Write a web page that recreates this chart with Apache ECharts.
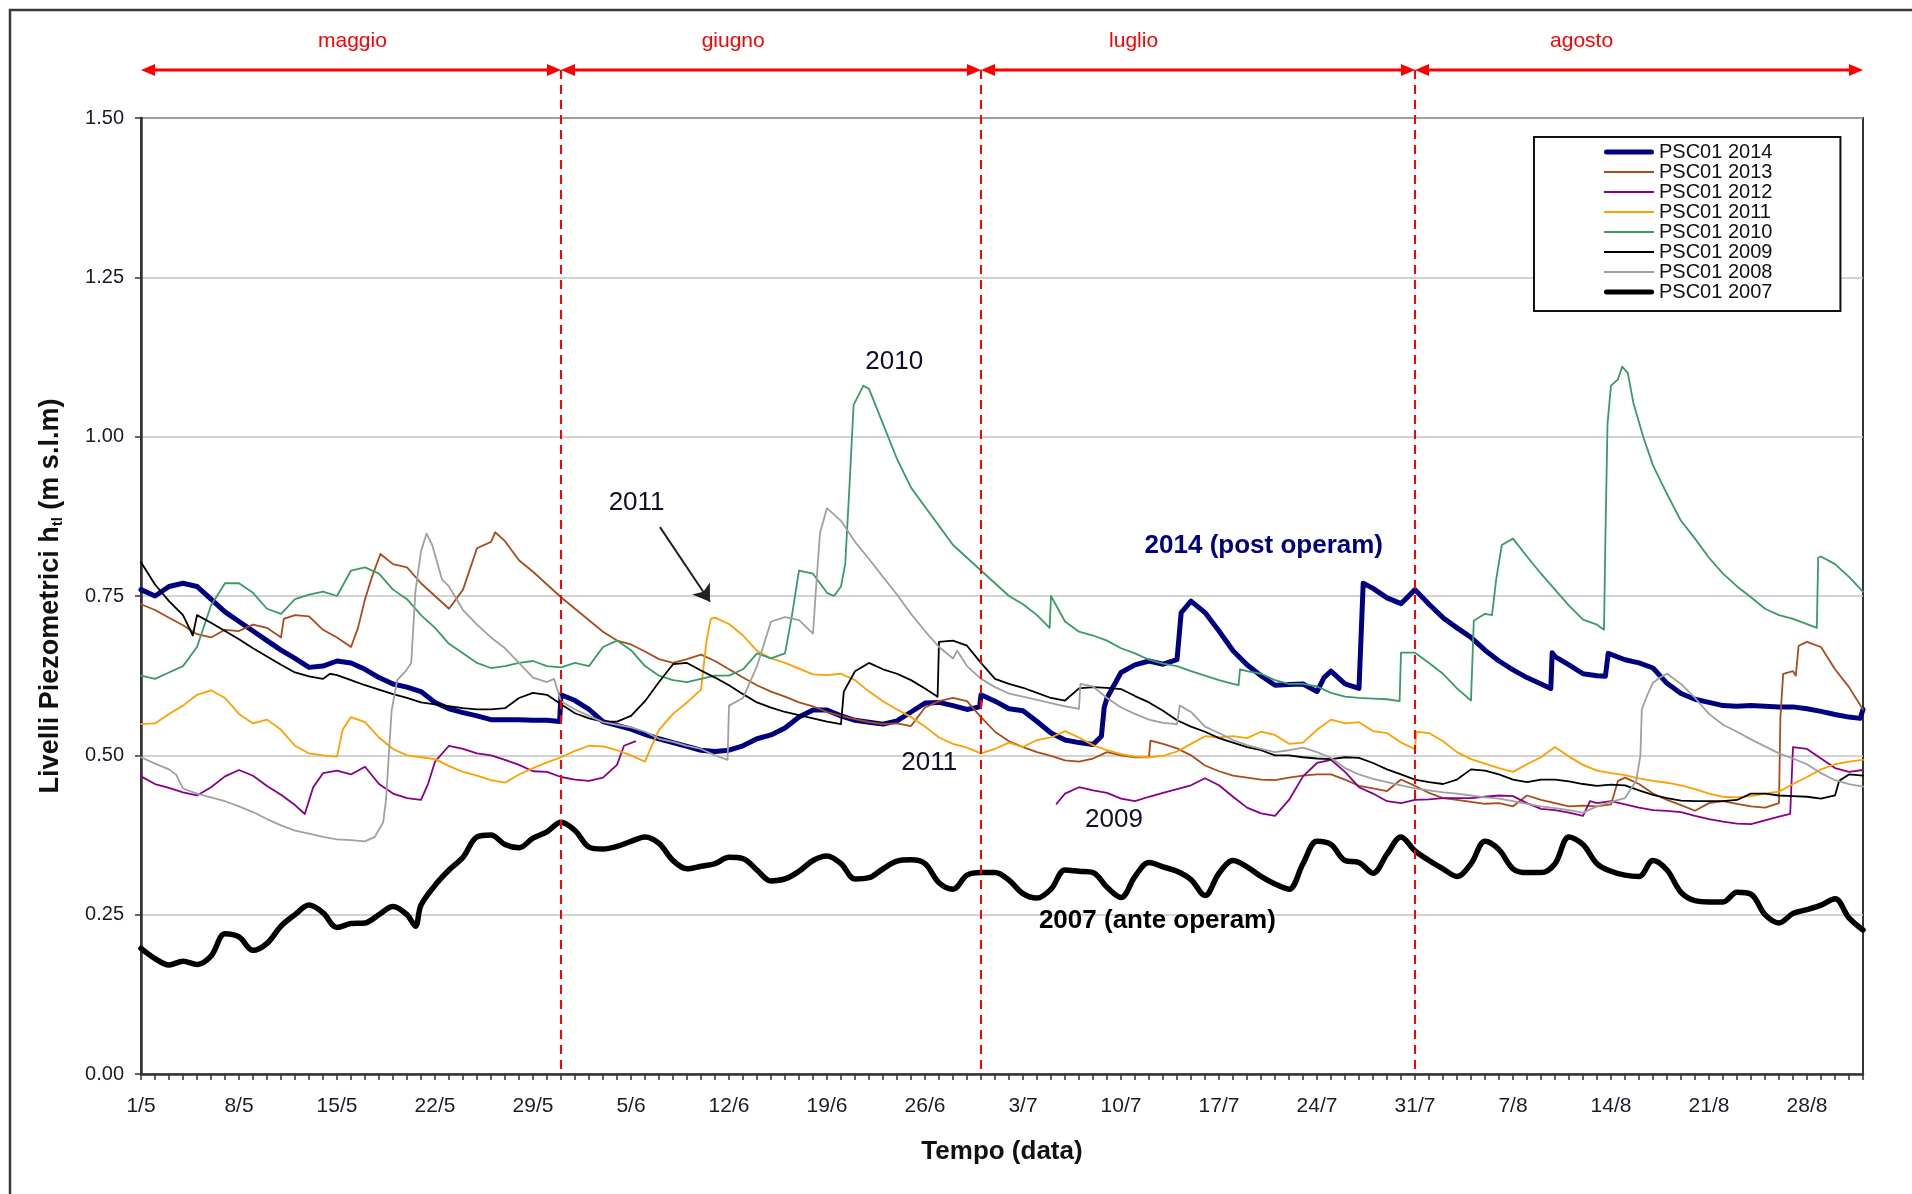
<!DOCTYPE html>
<html>
<head>
<meta charset="utf-8">
<title>PSC01 - Livelli piezometrici</title>
<script src="https://cdn.jsdelivr.net/npm/echarts@6/dist/echarts.min.js"></script>
<style>
html,body{margin:0;padding:0;background:#fff;}
#main{width:1912px;height:1194px;}
</style>
</head>
<body>
<div id="main"></div>
<script>
// dati: [giorno dal 1/5, livello (m s.l.m)]
var psc2014 = [[0,0.76],[1,0.75],[2,0.765],[3,0.77],[4,0.765],[5,0.745],[6,0.725],[7,0.71],[8,0.695],[9,0.68],[10,0.665],[11,0.652],[12,0.638],[13,0.64],[14,0.648],[15,0.645],[16,0.635],[17,0.622],[18,0.612],[19,0.607],[20,0.6],[21,0.583],
  [22,0.573],[23,0.567],[24,0.562],[25,0.556],[26,0.556],[27,0.556],[28,0.555],[29,0.555],[29.9,0.553],[30,0.595],[31,0.586],[32,0.572],[33,0.553],[34,0.547],[35,0.541],[36,0.533],[37,0.526],[38,0.52],[39,0.514],[40,0.508],[41,0.506],
  [42,0.508],[43,0.515],[44,0.526],[45,0.532],[46,0.543],[47,0.56],[48,0.571],[49,0.571],[50,0.562],[51,0.555],[52,0.552],[53,0.549],[54,0.554],[55,0.568],[56,0.582],[57,0.583],[58,0.578],[59,0.572],[59.9,0.576],[60,0.595],[61,0.585],[62,0.573],
  [63,0.57],[64,0.553],[65,0.535],[66,0.524],[67,0.52],[68,0.517],[68.6,0.53],[68.8,0.575],[69,0.59],[70,0.63],[71,0.642],[72,0.648],[73,0.643],[74,0.65],[74.3,0.724],[75,0.742],[76,0.724],[77,0.695],[78,0.664],[79,0.642],[80,0.625],[81,0.61],[82,0.611],[83,0.612],
  [84,0.6],[84.5,0.622],[85,0.632],[86,0.612],[87,0.605],[87.3,0.77],[88,0.762],[89,0.747],[90,0.738],[91,0.76],[92,0.737],[93,0.716],[94,0.7],[95,0.685],[96,0.665],[97,0.648],[98,0.634],[99,0.622],[100,0.612],[100.7,0.605],[100.8,0.661],[101,0.655],[102,0.642],[103,0.628],
  [104,0.625],[104.6,0.624],[104.8,0.66],[106,0.65],[107,0.645],[108,0.637],[109,0.613],[110,0.597],[111,0.588],[112,0.583],[113,0.578],[114,0.577],[115,0.578],[116,0.577],[117,0.576],[118,0.576],[119,0.573],[120,0.569],[121,0.564],[122,0.56],[122.8,0.558],[123,0.572]];

var psc2013 = [[0,0.737],[1,0.728],[2,0.716],[3,0.704],[4,0.69],[5,0.685],[6,0.697],[7,0.695],[8,0.705],[9,0.7],[10,0.685],[10.2,0.714],[11,0.72],[12,0.718],[13,0.697],[14,0.685],[15,0.67],[15.5,0.7],[16,0.745],[16.5,0.78],[17.1,0.816],[18,0.8],[19,0.795],[20,0.77],
  [21,0.75],[22,0.73],[23,0.76],[24,0.825],[25,0.835],[25.3,0.85],[26,0.836],[27,0.806],[28,0.788],[29,0.768],[30,0.748],[31,0.73],[32,0.712],[33,0.694],[34,0.68],[35,0.674],[36,0.663],[37,0.651],[38,0.645],[39,0.651],[40,0.658],
  [41,0.648],[42,0.635],[43,0.622],[44,0.61],[45,0.6],[46,0.592],[47,0.583],[48,0.577],[49,0.568],[50,0.562],[51,0.557],[52,0.552],[53,0.549],[54,0.55],[55,0.546],[56,0.575],[57,0.585],[58,0.59],[59,0.585],[60,0.56],[61,0.537],
  [62,0.522],[63,0.513],[64,0.505],[65,0.499],[66,0.492],[67,0.49],[68,0.495],[69,0.505],[70,0.5],[71,0.497],[72,0.497],[72.1,0.523],[73,0.518],[74,0.511],[75,0.5],[76,0.484],[77,0.475],[78,0.468],[79,0.465],[80,0.462],[81,0.461],[82,0.465],
  [83,0.468],[84,0.47],[85,0.47],[86,0.462],[87,0.452],[88,0.448],[89,0.444],[90,0.462],[91,0.452],[92,0.441],[93,0.433],[94,0.43],[95,0.427],[96,0.424],[97,0.425],[98,0.42],[99,0.437],[100,0.43],[101,0.425],[102,0.42],
  [103,0.421],[104,0.42],[105,0.423],[105.5,0.46],[106,0.465],[107,0.455],[108,0.44],[109,0.43],[110,0.422],[111,0.413],[112,0.425],[113,0.428],[114,0.424],[115,0.42],[116,0.418],[117,0.425],[117.1,0.56],[117.3,0.628],[118,0.632],[118.2,0.625],[118.4,0.672],[119,0.678],[120,0.67],[121,0.635],[122,0.607],[123,0.572]];

var psc2012 = [[0,0.467],[1,0.455],[2,0.449],[3,0.442],[4,0.437],[5,0.45],[6,0.467],[7,0.477],[8,0.468],[9,0.452],[10,0.438],[11,0.422],[11.7,0.408],[12.3,0.45],[13,0.472],[14,0.476],[15,0.47],[16,0.482],[17,0.455],[18,0.44],[19,0.433],[20,0.43],[20.5,0.455],
  [21,0.49],[22,0.515],[23,0.51],[24,0.503],[25,0.5],[26,0.493],[27,0.485],[28,0.475],[29,0.474],[30,0.466],[31,0.462],[32,0.46],[33,0.465],[34,0.485],[34.5,0.515],[35.3,0.522],[50,null],
  [65.4,0.424],[66,0.44],[67,0.45],[68,0.445],[69,0.441],[70,0.432],[71,0.428],[72,0.435],[73,0.441],[74,0.447],[75,0.453],[76,0.464],[77,0.453],[78,0.435],[79,0.418],[80,0.409],[81,0.405],[82,0.43],
  [83,0.467],[84,0.488],[85,0.493],[86,0.474],[87,0.45],[88,0.44],[89,0.428],[90,0.425],[91,0.43],[92,0.431],[93,0.433],[94,0.433],[95,0.433],[96,0.435],[97,0.437],[98,0.436],[99,0.425],[100,0.416],[101,0.414],[102,0.41],[103,0.405],
  [103.5,0.428],[104,0.425],[105,0.428],[106,0.423],[107,0.418],[108,0.414],[109,0.413],[110,0.411],[111,0.405],[112,0.4],[113,0.396],[114,0.393],[115,0.392],[116,0.398],[117,0.404],[117.8,0.408],[118,0.513],[119,0.51],[120,0.495],[121,0.48],[122,0.474],[123,0.477]];

var psc2011 = [[0,0.549],[1,0.55],[2,0.565],[3,0.578],[4,0.595],[5,0.602],[6,0.59],[7,0.565],[8,0.55],[9,0.556],[10,0.54],[11,0.515],[12,0.503],[13,0.5],[14,0.498],[14.4,0.54],[15,0.56],[16,0.552],[17,0.528],[18,0.51],[19,0.5],[20,0.497],
  [21,0.494],[22,0.483],[23,0.474],[24,0.468],[25,0.461],[26,0.457],[27,0.47],[28,0.48],[29,0.489],[30,0.497],[31,0.507],[32,0.515],[33,0.514],[34,0.508],[35,0.5],[36,0.49],[36.5,0.516],[37,0.54],[38,0.565],[39,0.583],[40,0.603],[40.4,0.68],[40.7,0.714],
  [41,0.716],[42,0.706],[43,0.688],[44,0.664],[45,0.652],[46,0.645],[47,0.636],[48,0.627],[49,0.626],[50,0.628],[51,0.618],[52,0.6],[53,0.585],[54,0.572],[55,0.56],[56,0.545],[57,0.528],[58,0.518],[59,0.512],[60,0.503],[61,0.51],
  [62,0.52],[63,0.513],[64,0.524],[65,0.528],[66,0.538],[67,0.528],[68,0.516],[69,0.508],[70,0.502],[71,0.498],[72,0.497],[73,0.499],[74,0.506],[75,0.518],[76,0.53],[77,0.528],[78,0.53],[79,0.527],[80,0.537],[81,0.532],[82,0.518],
  [83,0.52],[84,0.54],[85,0.556],[86,0.55],[87,0.552],[88,0.538],[89,0.535],[90,0.52],[91,0.51],[91.1,0.537],[92,0.535],[93,0.522],[94,0.505],[95,0.494],[96,0.487],[97,0.48],[98,0.474],[99,0.486],[100,0.497],[101,0.513],[102,0.498],
  [103,0.485],[104,0.476],[105,0.472],[106,0.469],[107,0.464],[108,0.46],[109,0.457],[110,0.453],[111,0.447],[112,0.44],[113,0.435],[114,0.434],[115,0.436],[116,0.44],[117,0.443],[118,0.455],[119,0.466],[120,0.478],[121,0.486],[122,0.49],[123,0.493]];

var psc2010 = [[0,0.625],[1,0.62],[2,0.63],[3,0.64],[4,0.67],[5,0.735],[6,0.77],[7,0.77],[8,0.755],[9,0.73],[10,0.722],[11,0.745],[12,0.752],[13,0.757],[14,0.75],[15,0.79],[16,0.795],[17,0.785],[18,0.76],[19,0.745],[20,0.72],
  [21,0.7],[22,0.675],[23,0.66],[24,0.645],[25,0.637],[26,0.64],[27,0.645],[28,0.648],[29,0.64],[30,0.638],[31,0.645],[32,0.64],[33,0.67],[34,0.68],[35,0.665],[36,0.64],[37,0.625],[38,0.618],[39,0.615],[40,0.62],
  [41,0.625],[42,0.625],[43,0.635],[44,0.66],[45,0.652],[46,0.66],[46.5,0.72],[47,0.79],[48,0.785],[49,0.755],[49.5,0.75],[50,0.765],[50.3,0.8],[50.6,0.92],[50.9,1.05],[51.6,1.08],[52,1.075],[53,1.02],[54,0.965],[55,0.92],[56,0.89],[57,0.86],[58,0.83],[59,0.81],[60,0.79],[61,0.77],
  [62,0.75],[63,0.737],[64,0.72],[64.9,0.7],[65,0.75],[65.5,0.73],[66,0.71],[67,0.694],[68,0.688],[69,0.68],[70,0.668],[71,0.66],[72,0.65],[73,0.644],[74,0.64],[75,0.632],[76,0.625],[77,0.618],[78,0.612],[78.4,0.61],[78.5,0.635],[79,0.632],[80,0.628],[81,0.618],[82,0.612],
  [83,0.612],[84,0.608],[85,0.598],[86,0.592],[87,0.59],[88,0.589],[89,0.588],[89.9,0.585],[90,0.661],[91,0.661],[92,0.645],[93,0.628],[94,0.605],[95,0.586],[95.2,0.711],[96,0.722],[96.5,0.72],[96.8,0.776],[97.2,0.83],[98,0.84],[99,0.812],[100,0.785],[101,0.76],[102,0.735],
  [103,0.713],[104,0.705],[104.5,0.697],[104.6,0.84],[104.75,1.02],[105,1.08],[105.5,1.09],[105.8,1.11],[106.2,1.1],[106.6,1.053],[107.3,1.0],[108,0.955],[109,0.91],[110,0.868],[111,0.84],[112,0.81],[113,0.785],[114,0.765],[115,0.748],[116,0.73],[117,0.72],[118,0.714],[119,0.706],[119.7,0.7],[119.8,0.81],[120,0.812],[121,0.8],[122,0.78],[123,0.757]];

var psc2009 = [[0,0.803],[1,0.768],[2,0.742],[3,0.72],[3.7,0.688],[4,0.72],[5,0.708],[6,0.695],[7,0.682],[8,0.668],[9,0.655],[10,0.642],[11,0.63],[12,0.624],[13,0.62],[13.5,0.628],[14,0.626],[15,0.618],[16,0.61],[17,0.603],[18,0.596],[19,0.59],[20,0.583],
  [21,0.58],[22,0.577],[23,0.574],[24,0.572],[25,0.572],[26,0.574],[27,0.59],[28,0.598],[29,0.595],[30,0.58],[31,0.566],[32,0.558],[33,0.553],[34,0.553],[35,0.562],[36,0.585],[37,0.615],[38,0.643],[39,0.645],[40,0.633],
  [41,0.622],[42,0.61],[43,0.596],[44,0.583],[45,0.575],[46,0.568],[47,0.563],[48,0.558],[49,0.553],[50,0.549],[50.2,0.6],[51,0.632],[52,0.645],[53,0.635],[54,0.628],[55,0.618],[56,0.605],[56.9,0.592],[57,0.678],[58,0.68],[59,0.672],[60,0.645],[61,0.62],
  [62,0.612],[63,0.606],[64,0.598],[65,0.59],[66,0.586],[67,0.605],[68,0.607],[69,0.606],[70,0.604],[71,0.593],[72,0.583],[73,0.57],[74,0.555],[75,0.545],[76,0.537],[77,0.527],[78,0.52],[79,0.513],[80,0.508],[81,0.5],[82,0.5],
  [83,0.497],[84,0.495],[85,0.494],[86,0.497],[87,0.496],[88,0.488],[89,0.478],[90,0.47],[91,0.462],[92,0.458],[93,0.455],[94,0.462],[95,0.478],[96,0.476],[97,0.47],[98,0.462],[99,0.458],[100,0.462],[101,0.462],[102,0.459],
  [103,0.455],[104,0.452],[105,0.454],[106,0.453],[107,0.445],[108,0.438],[109,0.433],[110,0.429],[111,0.428],[112,0.428],[113,0.428],[114,0.43],[115,0.44],[116,0.44],[117,0.437],[118,0.436],[119,0.435],[120,0.432],[121,0.437],[121.3,0.46],[122,0.47],[123,0.468]];

var psc2008 = [[0,0.497],[1,0.487],[2,0.478],[2.5,0.47],[3,0.448],[4,0.44],[5,0.434],[6,0.428],[7,0.42],[8,0.411],[9,0.4],[10,0.39],[11,0.382],[12,0.377],[13,0.372],[14,0.368],[15,0.367],[16,0.365],[16.7,0.372],[17.3,0.395],[17.5,0.43],[17.7,0.5],[17.9,0.57],[18.3,0.618],[18.9,0.632],[19.3,0.645],[19.6,0.757],[20,0.82],[20.4,0.848],[20.8,0.83],
  [21.5,0.776],[22,0.765],[23,0.728],[24,0.705],[25,0.685],[26,0.668],[27,0.645],[28,0.622],[29,0.615],[29.5,0.62],[30,0.585],[31,0.572],[32,0.562],[33,0.552],[34,0.548],[35,0.544],[36,0.537],[37,0.526],[38,0.521],[39,0.515],[40,0.51],
  [41,0.5],[41.9,0.493],[42,0.578],[43,0.59],[44,0.64],[45,0.71],[46,0.717],[47,0.712],[48,0.691],[48.2,0.757],[48.5,0.849],[49,0.888],[50,0.868],[51,0.835],[52,0.808],[53,0.78],[54,0.752],[55,0.722],[56,0.695],[57,0.67],[58,0.652],[58.3,0.664],[59,0.64],[60,0.62],[61,0.607],
  [62,0.597],[63,0.592],[64,0.587],[65,0.582],[66,0.577],[67,0.573],[67.1,0.612],[68,0.608],[69,0.59],[70,0.575],[71,0.565],[72,0.556],[73,0.551],[74,0.549],[74.2,0.578],[75,0.568],[76,0.545],[77,0.535],[78,0.524],[79,0.516],[80,0.51],[81,0.505],[82,0.508],
  [83,0.512],[84,0.505],[85,0.496],[86,0.48],[87,0.47],[88,0.463],[89,0.458],[90,0.453],[91,0.448],[92,0.445],[93,0.442],[94,0.44],[95,0.437],[96,0.434],[97,0.432],[98,0.428],[99,0.424],[100,0.42],[101,0.417],[102,0.414],
  [103,0.41],[104,0.42],[105,0.427],[106,0.433],[106.8,0.46],[107.1,0.5],[107.2,0.572],[107.6,0.595],[108,0.614],[108.5,0.622],[109,0.628],[110,0.612],[111,0.59],[112,0.565],[113,0.548],[114,0.537],[115,0.525],[116,0.514],[117,0.503],[118,0.495],[119,0.486],[120,0.472],[121,0.461],[122,0.455],[123,0.451]];

var psc2007 = [[0,0.197],[1,0.181],[2,0.171],[3,0.177],[4,0.172],[5,0.185],[6,0.22],[7,0.215],[8,0.194],[9,0.205],[10,0.232],[11,0.25],[12,0.265],[13,0.253],[14,0.23],[15,0.236],[16,0.237],[17,0.25],[18,0.263],[19,0.25],[19.6,0.232],[20,0.265],
  [21,0.296],[22,0.32],[23,0.34],[24,0.372],[25,0.375],[26,0.36],[27,0.355],[28,0.37],[29,0.38],[30,0.395],[31,0.382],[32,0.356],[33,0.353],[34,0.357],[35,0.365],[36,0.372],[37,0.362],[38,0.335],[39,0.322],[40,0.326],
  [41,0.33],[42,0.34],[43,0.338],[44,0.32],[45,0.303],[46,0.306],[47,0.318],[48,0.335],[49,0.342],[50,0.33],[51,0.306],[52,0.308],[53,0.322],[54,0.334],[55,0.336],[56,0.33],[57,0.3],[58,0.29],[59,0.312],[60,0.316],[61,0.316],
  [62,0.304],[63,0.283],[64,0.276],[65,0.29],[66,0.32],[67,0.318],[68,0.316],[69,0.293],[70,0.277],[71,0.31],[72,0.332],[73,0.325],[74,0.318],[75,0.305],[76,0.28],[77,0.315],[78,0.335],[79,0.325],[80,0.31],[81,0.298],[82,0.29],
  [83,0.33],[84,0.365],[85,0.36],[86,0.335],[87,0.332],[88,0.315],[89,0.345],[90,0.372],[91,0.35],[92,0.335],[93,0.322],[94,0.31],[95,0.33],[96,0.365],[97,0.352],[98,0.322],[99,0.316],[100,0.316],[101,0.33],[102,0.372],
  [103,0.36],[104,0.33],[105,0.318],[106,0.312],[107,0.31],[108,0.335],[109,0.32],[110,0.285],[111,0.272],[112,0.27],[113,0.27],[114,0.285],[115,0.282],[116,0.25],[117,0.237],[118,0.252],[119,0.258],[120,0.265],[121,0.275],[122,0.245],[123,0.226]];

var xTickLabels = ['1/5','8/5','15/5','22/5','29/5','5/6','12/6','19/6','26/6','3/7','10/7','17/7','24/7','31/7','7/8','14/8','21/8','28/8'];
var monthNames = ['maggio','giugno','luglio','agosto'];
var monthBounds = [0, 30, 60, 91, 123];
var monthLabelDay = [15.1, 42.3, 70.9, 102.9];

// scritte sul grafico: [giorno, livello, testo, stile]
var notes = [
  [53.8, 1.117, '2010', 'n'],
  [35.4, 0.896, '2011', 'n'],
  [56.3, 0.488, '2011', 'n'],
  [69.5, 0.399, '2009', 'n'],
  [80.2, 0.828, '2014 (post operam)', 'b'],
  [72.6, 0.240, '2007 (ante operam)', 'k']
];
var arrow2011 = [[37.07, 0.858], [40.64, 0.741]];

var FONT = "'Liberation Sans', Arial, sans-serif";

// icone legenda: linea sottile o spessa dentro un riquadro 50x14
var ICON_THIN = 'path://M0,0L0,0M0,6.1L50,6.1L50,7.9L0,7.9ZM50,14L50,14';
var ICON_THICK = 'path://M0,0L0,0M2.5,4.5L47.5,4.5A2.5,2.5,0,0,1,47.5,9.5L2.5,9.5A2.5,2.5,0,0,1,2.5,4.5ZM50,14L50,14';

var chart = echarts.init(document.getElementById('main'));

function serie(name, data, color, width, smooth) {
  return {
    name: name,
    type: 'line',
    data: data,
    symbol: 'none',
    showSymbol: false,
    smooth: smooth || false,
    connectNulls: false,
    lineStyle: {color: color, width: width, cap: 'round', join: 'round'},
    itemStyle: {color: color},
    emphasis: {disabled: true},
    silent: true
  };
}

var dayTicks = [];
for (var i = 0; i <= 123; i++) dayTicks.push(i);
var labelDays = xTickLabels.map(function (l, k) { return k * 7; });

var noteStyle = {
  n: {color: '#10102a', fontWeight: 'normal'},
  b: {color: '#000080', fontWeight: 'bold'},
  k: {color: '#000000', fontWeight: 'bold'}
};

var legendNames = ['PSC01 2014','PSC01 2013','PSC01 2012','PSC01 2011','PSC01 2010','PSC01 2009','PSC01 2008','PSC01 2007'];

var option = {
  animation: false,
  backgroundColor: '#ffffff',
  textStyle: {fontFamily: FONT},
  grid: {left: 141, right: 49, top: 118, bottom: 120, show: true, borderColor: '#333', borderWidth: 2, backgroundColor: '#fff'},
  legend: {
    data: legendNames.map(function (n, k) {
      return {name: n, icon: (k === 0 || k === 7) ? ICON_THICK : ICON_THIN};
    }),
    orient: 'vertical',
    left: 1534, top: 137,
    padding: [5, 68, 9, 70],
    itemGap: 0,
    itemWidth: 50, itemHeight: 14,
    backgroundColor: '#fff',
    borderColor: '#111', borderWidth: 2,
    selectedMode: false,
    itemStyle: {borderWidth: 0},
    textStyle: {fontFamily: FONT, fontSize: 20, color: '#111', lineHeight: 20}
  },
  xAxis: {
    type: 'value', min: 0, max: 123, interval: 7,
    name: 'Tempo (data)', nameLocation: 'middle', nameGap: 65,
    nameTextStyle: {fontFamily: FONT, fontSize: 26, fontWeight: 'bold', color: '#111'},
    axisLine: {lineStyle: {color: '#333', width: 2.5}},
    axisTick: {customValues: dayTicks, length: 6, lineStyle: {color: '#333', width: 1.5}},
    axisLabel: {customValues: labelDays, margin: 22, fontSize: 21, color: '#1a1a2a', fontFamily: FONT,
      formatter: function (v) { var k = Math.round(v / 7); return (k * 7 === Math.round(v) && xTickLabels[k]) ? xTickLabels[k] : ''; }},
    splitLine: {show: false}
  },
  yAxis: {
    type: 'value', min: 0, max: 1.5, interval: 0.25,
    name: 'Livelli Piezometrici h{s|tl} (m s.l.m)', nameLocation: 'middle', nameGap: 76,
    nameTextStyle: {fontFamily: FONT, fontSize: 27, fontWeight: 'bold', color: '#111',
      rich: {s: {fontFamily: FONT, fontSize: 15, fontWeight: 'bold', color: '#111', verticalAlign: 'bottom', padding: [14, 0, 0, 0]}}},
    axisLine: {show: true, lineStyle: {color: '#333', width: 2.5}},
    axisTick: {show: true, length: 6, lineStyle: {color: '#333', width: 1.5}},
    axisLabel: {margin: 17, fontSize: 20, color: '#1a1a2a', fontFamily: FONT, formatter: function (v) { return v.toFixed(2); }},
    splitLine: {lineStyle: {color: '#c4c4c4', width: 1.5}}
  },
  series: [
    serie('PSC01 2014', psc2014, '#000080', 5),
    serie('PSC01 2013', psc2013, '#a84c1c', 1.8),
    serie('PSC01 2012', psc2012, '#880088', 1.8),
    serie('PSC01 2011', psc2011, '#ffa000', 1.8),
    serie('PSC01 2010', psc2010, '#3a9a68', 1.8),
    serie('PSC01 2009', psc2009, '#000000', 1.8),
    serie('PSC01 2008', psc2008, '#a0a0a0', 1.8),
    serie('PSC01 2007', psc2007, '#000000', 5.5, 0.35),
    {
      type: 'lines', coordinateSystem: 'cartesian2d', silent: true,
      data: [{coords: arrow2011}],
      symbol: ['none', 'arrow'], symbolSize: 16,
      lineStyle: {color: '#222', width: 2, opacity: 1, curveness: 0}
    },
    {
      type: 'scatter', silent: true, symbolSize: 1,
      itemStyle: {color: 'rgba(0,0,0,0)', opacity: 1},
      data: notes.map(function (n) {
        var st = noteStyle[n[3]];
        return {value: [n[0], n[1]], label: {show: true, position: 'inside', formatter: n[2], opacity: 1,
          fontFamily: FONT, fontSize: 26, color: st.color, fontWeight: st.fontWeight}};
      })
    }
  ]
};

chart.setOption(option);

// mesi sopra il grafico: frecce rosse e linee tratteggiate
function drawMonths() {
  var y0 = chart.convertToPixel({yAxisIndex: 0}, 0);
  var ya = 70, yt = 40, head = 14, hw = 6;
  var red = '#ff0000';
  var els = [{
    type: 'rect', shape: {x: 10, y: 10, width: 2000, height: 1400},
    style: {fill: null, stroke: '#3a3a3a', lineWidth: 2.5}, silent: true, z: 100
  }];
  for (var m = 0; m < monthNames.length; m++) {
    var xa = chart.convertToPixel({xAxisIndex: 0}, monthBounds[m]);
    var xb = chart.convertToPixel({xAxisIndex: 0}, monthBounds[m + 1]);
    els.push({type: 'line', shape: {x1: xa + 8, y1: ya, x2: xb - 8, y2: ya}, style: {stroke: red, lineWidth: 3}, silent: true, z: 100});
    els.push({type: 'polygon', shape: {points: [[xa, ya], [xa + head, ya - hw], [xa + head, ya + hw]]}, style: {fill: red}, silent: true, z: 100});
    els.push({type: 'polygon', shape: {points: [[xb, ya], [xb - head, ya - hw], [xb - head, ya + hw]]}, style: {fill: red}, silent: true, z: 100});
    els.push({type: 'text', x: chart.convertToPixel({xAxisIndex: 0}, monthLabelDay[m]), y: yt + 1,
      style: {text: monthNames[m], fill: red, font: '21px ' + FONT, textAlign: 'center', textVerticalAlign: 'middle'}, silent: true, z: 100});
  }
  for (var b = 1; b < monthBounds.length - 1; b++) {
    var xd = chart.convertToPixel({xAxisIndex: 0}, monthBounds[b]);
    els.push({type: 'line', shape: {x1: xd, y1: ya, x2: xd, y2: y0}, style: {stroke: red, lineWidth: 2, lineDash: [9, 6]}, silent: true, z: 100});
  }
  chart.setOption({graphic: els});
}
drawMonths();
</script>
</body>
</html>
